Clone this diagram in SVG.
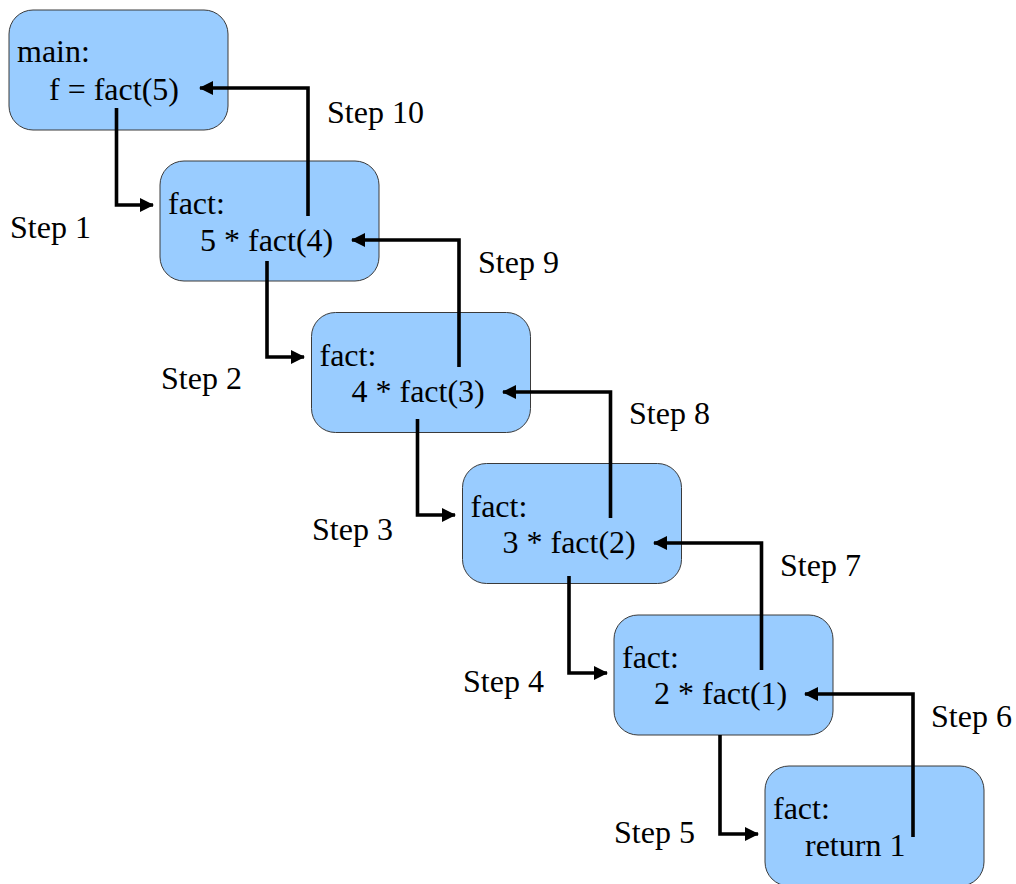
<svg xmlns="http://www.w3.org/2000/svg" width="1016" height="884" viewBox="0 0 1016 884">
<defs>
<style>
.box{fill:#99ccff;stroke:#3a3a3a;stroke-width:1}
.t{font-family:"Liberation Serif","Times New Roman",serif;font-size:32px;fill:#000}
.c{fill:none;stroke:#000;stroke-width:3.6;stroke-linejoin:miter}
</style>
<marker id="ah" markerUnits="userSpaceOnUse" markerWidth="15" markerHeight="15" refX="13" refY="7" orient="auto" viewBox="0 0 15 14">
<path d="M0,0 L14,7 L0,14 z" fill="#000"/>
</marker>
</defs>
<rect width="1016" height="884" fill="#fff"/>
<g id="node-main">
<rect class="box" x="9" y="10" width="219" height="120" rx="24"/>
<text class="t" x="17" y="62">main:</text>
<text class="t" x="49" y="100">f = fact(5)</text>
</g>
<g id="node-fact5">
<rect class="box" x="160" y="161" width="219" height="120" rx="24"/>
<text class="t" x="168" y="214">fact:</text>
<text class="t" x="200" y="251">5 * fact(4)</text>
</g>
<g id="node-fact4">
<rect class="box" x="311.5" y="312.5" width="219" height="120" rx="24"/>
<text class="t" x="319.5" y="365.5">fact:</text>
<text class="t" x="351.5" y="402">4 * fact(3)</text>
</g>
<g id="node-fact3">
<rect class="box" x="462.5" y="463.5" width="219" height="120" rx="24"/>
<text class="t" x="470.5" y="516.5">fact:</text>
<text class="t" x="502.5" y="553">3 * fact(2)</text>
</g>
<g id="node-fact2">
<rect class="box" x="614" y="615" width="219" height="120" rx="24"/>
<text class="t" x="622" y="668">fact:</text>
<text class="t" x="654" y="704">2 * fact(1)</text>
</g>
<g id="node-fact1">
<rect class="box" x="765" y="766" width="219" height="120" rx="24"/>
<text class="t" x="773" y="819">fact:</text>
<text class="t" x="805" y="856">return 1</text>
</g>
<g id="connectors">
<polyline class="c" points="116.5,108 116.5,205 153,205" marker-end="url(#ah)"/>
<polyline class="c" points="267,261 267,357 304,357" marker-end="url(#ah)"/>
<polyline class="c" points="417.5,419 417.5,515 455,515" marker-end="url(#ah)"/>
<polyline class="c" points="569,576 569,673 607,673" marker-end="url(#ah)"/>
<polyline class="c" points="720,735 720,834 758,834" marker-end="url(#ah)"/>
<polyline class="c" points="308,216 308,88 200,88" marker-end="url(#ah)"/>
<polyline class="c" points="459,367 459,240 352,240" marker-end="url(#ah)"/>
<polyline class="c" points="610.5,518 610.5,392 503,392" marker-end="url(#ah)"/>
<polyline class="c" points="761.5,670 761.5,543 654,543" marker-end="url(#ah)"/>
<polyline class="c" points="913,837 913,694 805,694" marker-end="url(#ah)"/>
</g>
<g id="labels">
<text class="t" x="10" y="238">Step 1</text>
<text class="t" x="161" y="389">Step 2</text>
<text class="t" x="312" y="540">Step 3</text>
<text class="t" x="463" y="692">Step 4</text>
<text class="t" x="614" y="843">Step 5</text>
<text class="t" x="931" y="727">Step 6</text>
<text class="t" x="780" y="576">Step 7</text>
<text class="t" x="629" y="424">Step 8</text>
<text class="t" x="478" y="273">Step 9</text>
<text class="t" x="327" y="123">Step 10</text>
</g>
</svg>
